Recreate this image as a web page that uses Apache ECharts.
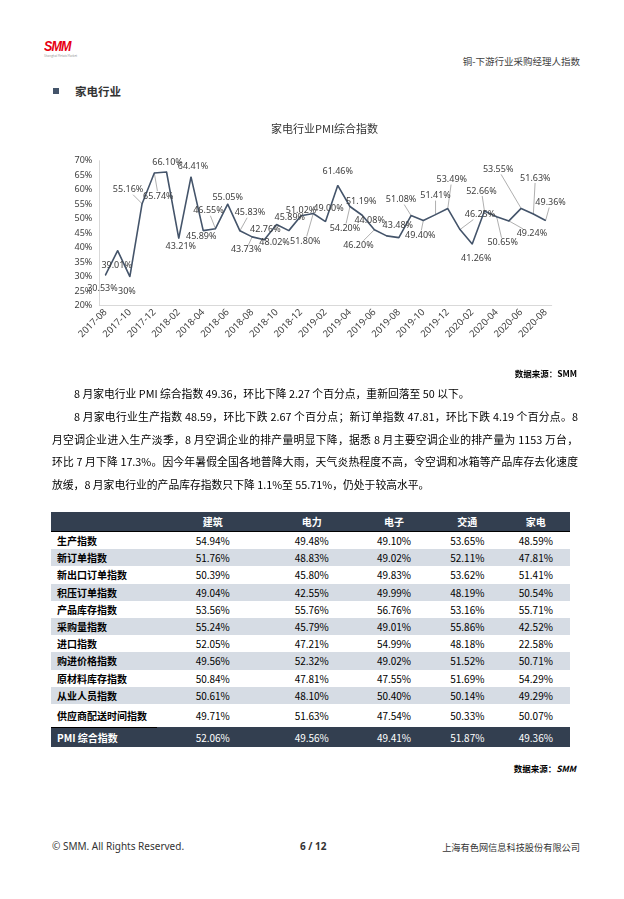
<!DOCTYPE html>
<html>
<head>
<meta charset="utf-8">
<script src="https://cdn.jsdelivr.net/npm/echarts/dist/echarts.min.js"></script>
<style>
body{margin:0;width:624px;height:899px;position:relative;overflow:hidden;background:#fff;
  font-family:"Noto Sans CJK SC","Noto Sans",sans-serif;color:#000}
.abs{position:absolute;white-space:nowrap}
.txt{position:absolute;font-size:10.8px;line-height:14px;white-space:nowrap}
.jst{text-align:justify;text-align-last:justify}
#pmiTable{position:absolute;left:51px;top:512px;border-collapse:collapse;table-layout:fixed;width:519px;font-size:10px}
#pmiTable td,#pmiTable th{padding:0;height:17.2px;line-height:17px;text-align:center;white-space:nowrap}
#pmiTable th{background:#333f50;color:#fff;font-weight:bold;height:19px;border-bottom:1px solid #000}
#pmiTable td.rl{text-align:left;padding-left:6px;font-weight:bold}
#pmiTable tr.g td{background:#d6dce4}
#pmiTable tr.tall td{height:23px}
#pmiTable tr.tall td.rl{border-bottom:1px solid #000}
#pmiTable tr.tot td{background:#333f50;color:#fff;height:19px}
</style>
</head>
<body>
<!-- 页眉 -->
<div class="abs" style="left:44px;top:38px;font:italic 900 14px 'Liberation Sans',Arial;color:#e60012;letter-spacing:-1px;transform:scaleX(0.9);transform-origin:left">SMM</div>
<div class="abs" style="left:44px;top:54px;font-size:3px;color:#999">Shanghai Metals Market</div>
<div class="abs" style="right:44px;top:54px;font-size:9.5px;color:#404040">铜-下游行业采购经理人指数</div>

<div class="abs" style="left:53px;top:88px;width:6px;height:6px;background:#44546a"></div>
<div class="abs" style="left:75px;top:83px;font-size:11.5px;font-weight:bold;color:#333">家电行业</div>

<div id="chart" style="position:absolute;left:0;top:100px;width:624px;height:290px"></div>
<div class="abs" style="right:47px;top:367px;font-size:8.5px;font-weight:bold">数据来源：SMM</div>

<!-- 正文 -->
<div class="txt" style="left:74px;top:386px">8 月家电行业 PMI 综合指数 49.36，环比下降 2.27 个百分点，重新回落至 50 以下。</div>
<div class="txt jst" style="left:74px;top:409px;width:504px">8 月家电行业生产指数 48.59，环比下跌 2.67 个百分点；新订单指数 47.81，环比下跌 4.19 个百分点。8</div>
<div class="txt jst" style="left:52px;top:432px;width:526px">月空调企业进入生产淡季，8 月空调企业的排产量明显下降，据悉 8 月主要空调企业的排产量为 1153 万台，</div>
<div class="txt jst" style="left:52px;top:454px;width:526px">环比 7 月下降 17.3%。因今年暑假全国各地普降大雨，天气炎热程度不高，令空调和冰箱等产品库存去化速度</div>
<div class="txt" style="left:52px;top:477px">放缓，8 月家电行业的产品库存指数只下降 1.1%至 55.71%，仍处于较高水平。</div>

<table id="pmiTable"></table>
<div class="abs" style="right:48px;top:762px;font-size:8.5px;font-weight:bold">数据来源：<i>SMM</i></div>

<!-- 页脚 -->
<div class="abs" style="left:52px;top:839px;font-size:10px;font-family:'Noto Sans',sans-serif;color:#333">© SMM. All Rights Reserved.</div>
<div class="abs" style="left:300px;top:839px;font-size:10px;font-weight:bold;font-family:'Noto Sans',sans-serif;color:#333">6 / 12</div>
<div class="abs" style="right:44px;top:840px;font-size:9.2px;color:#333">上海有色网信息科技股份有限公司</div>

<script>
// 家电行业PMI综合指数 月度数据
var months = ['2017-08', '2017-09', '2017-10', '2017-11', '2017-12', '2018-01', '2018-02', '2018-03',
    '2018-04', '2018-05', '2018-06', '2018-07', '2018-08', '2018-09', '2018-10', '2018-11', '2018-12',
    '2019-01', '2019-02', '2019-03', '2019-04', '2019-05', '2019-06', '2019-07', '2019-08', '2019-09',
    '2019-10', '2019-11', '2019-12', '2020-01', '2020-02', '2020-03', '2020-04', '2020-05', '2020-06',
    '2020-07', '2020-08'];
var pmiValues = ['30.53', '39.01', '30', '55.16', '65.74', '66.10', '43.21', '64.41', '45.89', '46.55',
    '55.05', '45.83', '43.73', '42.76', '48.02', '45.89', '51.02', '51.80', '49.00', '61.46', '54.20',
    '51.19', '46.20', '44.08', '43.48', '51.08', '49.40', '51.41', '53.49', '46.25', '41.26', '52.66',
    '50.65', '49.24', '53.55', '51.63', '49.36'];
var yTicks = [20, 25, 30, 35, 40, 45, 50, 55, 60, 65, 70];

// 表格数据
var tableSectors = ['建筑', '电力', '电子', '交通', '家电'];
var tableRows = ['生产指数', '新订单指数', '新出口订单指数', '积压订单指数', '产品库存指数', '采购量指数',
    '进口指数', '购进价格指数', '原材料库存指数', '从业人员指数', '供应商配送时间指数', 'PMI 综合指数'];
var jianzhu = ['54.94', '51.76', '50.39', '49.04', '53.56', '55.24', '52.05', '49.56', '50.84', '50.61', '49.71', '52.06'];
var dianli  = ['49.48', '48.83', '45.80', '42.55', '55.76', '45.79', '47.21', '52.32', '47.81', '48.10', '51.63', '49.56'];
var dianzi  = ['49.10', '49.02', '49.83', '49.99', '56.76', '49.01', '54.99', '49.02', '47.55', '50.40', '47.54', '49.41'];
var jiaotong = ['53.65', '52.11', '53.62', '48.19', '53.16', '55.86', '48.18', '51.52', '51.69', '50.14', '50.33', '51.87'];
var jiadian = ['48.59', '47.81', '51.41', '50.54', '55.71', '42.52', '22.58', '50.71', '54.29', '49.29', '50.07', '49.36'];

// 标签微调（相对数据点的像素偏移）及哪些标签画引导线
var labelNudge = [[-3, 13], [-1, 15], [-3, 15], [-14, -14], [4, 23], [1, -10], [2, 8], [2, -10], [-2, 6],
    [-7, -18], [0, -7], [10, -18], [-6, 13], [1, -10], [-2, 18], [1, -13], [0, -5], [-8, 28], [3, -13],
    [0, -14], [-5, 22], [-1, -14], [-16, 16], [-17, -15], [-1, -12], [-10, -16], [-3, 15], [0, -19],
    [4, -29], [20, -15], [4, 14], [-3, -20], [6, 26], [23, 13], [-23, -39], [2, -36], [5, -18]];
var leaderIdx = [3, 4, 9, 11, 12, 17, 20, 22, 25, 26, 27, 28, 29, 31, 32, 33, 34, 35, 36];

// 表格
(function () {
    var cols = [jianzhu, dianli, dianzi, jiaotong, jiadian];
    var html = '<colgroup><col style="width:106px"><col style="width:111.5px"><col style="width:86.5px">' +
        '<col style="width:78px"><col style="width:68.7px"><col style="width:68.3px"></colgroup>';
    html += '<tr><th></th>';
    tableSectors.forEach(function (s) { html += '<th>' + s + '</th>'; });
    html += '</tr>';
    tableRows.forEach(function (r, i) {
        var cls = '';
        if (i === tableRows.length - 1) cls = 'tot';
        else if (i === tableRows.length - 2) cls = 'tall';
        else if (i % 2 === 1) cls = 'g';
        html += '<tr class="' + cls + '"><td class="rl">' + r + '</td>';
        cols.forEach(function (c) { html += '<td>' + c[i] + '%</td>'; });
        html += '</tr>';
    });
    document.getElementById('pmiTable').innerHTML = html;
})();

var chart = echarts.init(document.getElementById('chart'));

// 引导线：从数据点连到标签边缘
var leaderData = leaderIdx.map(function (i) { return [i, Number(pmiValues[i])]; });

function renderLeader(params, api) {
    var pt = api.coord([api.value(0), api.value(1)]);
    var n = labelNudge[api.value(0)];
    var halfW = 15, halfH = 5;
    var s = Math.min(halfW / Math.max(Math.abs(n[0]), 0.01), halfH / Math.max(Math.abs(n[1]), 0.01));
    if (s >= 1) return null;
    var end = [pt[0] + n[0] * (1 - s), pt[1] + n[1] * (1 - s)];
    return {
        type: 'line',
        shape: {x1: pt[0], y1: pt[1], x2: end[0], y2: end[1]},
        style: {stroke: '#a6a6a6', lineWidth: 0.9}
    };
}

var option = {
    animation: false,
    title: {
        text: '家电行业PMI综合指数',
        left: 266,
        top: 18,
        textStyle: {fontSize: 11, fontWeight: 'normal', color: '#333', fontFamily: 'Noto Sans CJK SC'}
    },
    grid: {
        left: 99.3,
        right: 72.3,
        top: 60.7,
        height: 145,
        outerBoundsMode: 'none'
    },
    xAxis: {
        type: 'category',
        data: months,
        boundaryGap: true,
        axisLine: {lineStyle: {color: '#d9d9d9', width: 1}},
        axisTick: {interval: 1, length: 4, lineStyle: {color: '#d9d9d9'}},
        axisLabel: {
            interval: 1,
            rotate: 45,
            margin: 5,
            fontSize: 9.5,
            color: '#404040',
            fontFamily: 'Noto Sans'
        },
        splitLine: {show: false}
    },
    yAxis: {
        type: 'value',
        min: yTicks[0],
        max: yTicks[yTicks.length - 1],
        interval: 5,
        axisLine: {show: true, lineStyle: {color: '#d9d9d9'}},
        axisTick: {show: false},
        splitLine: {show: false},
        axisLabel: {
            formatter: '{value}%',
            margin: 7,
            fontSize: 9,
            color: '#404040',
            fontFamily: 'Noto Sans'
        }
    },
    series: [{
        type: 'custom',
        data: leaderData,
        renderItem: renderLeader,
        silent: true,
        z: 1
    }, {
        type: 'line',
        data: pmiValues,
        z: 2,
        symbol: 'circle',
        symbolSize: 1,
        showSymbol: true,
        itemStyle: {color: '#44546a'},
        lineStyle: {color: '#44546a', width: 1.6},
        label: {
            show: true,
            position: 'inside',
            fontSize: 9,
            color: '#404040',
            fontFamily: 'Noto Sans',
            formatter: function (p) { return p.data + '%'; }
        },
        labelLayout: function (p) {
            var n = labelNudge[p.dataIndex];
            var cx = p.rect.x + p.rect.width / 2;
            var cy = p.rect.y + p.rect.height / 2;
            return {
                x: cx + n[0],
                y: cy + n[1],
                align: 'center',
                verticalAlign: 'middle',
                hideOverlap: false
            };
        },
        emphasis: {disabled: true}
    }]
};

chart.setOption(option);
</script>
</body>
</html>
